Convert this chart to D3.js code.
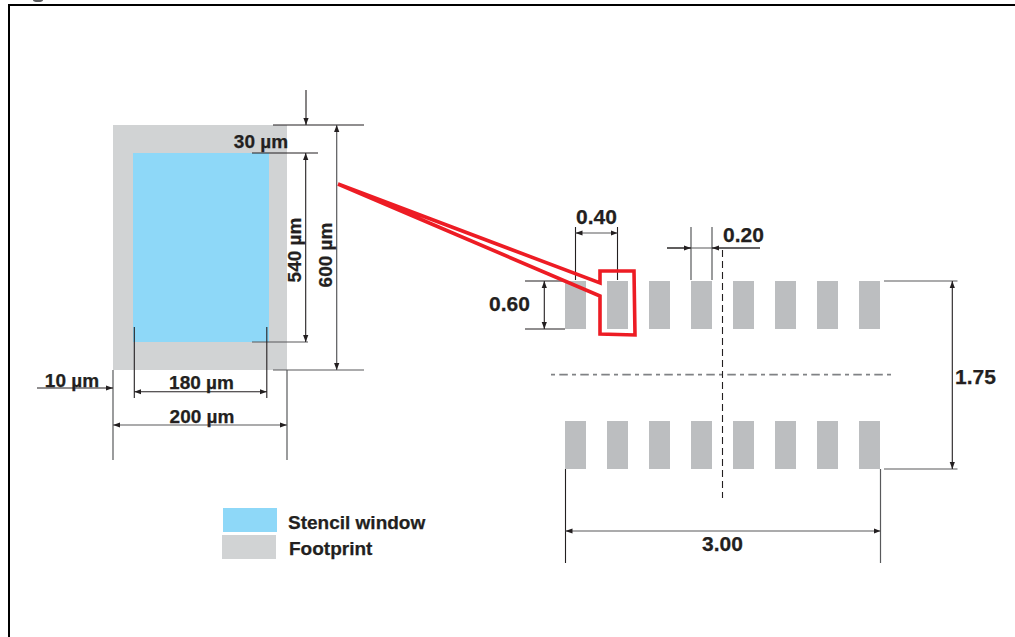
<!DOCTYPE html>
<html>
<head>
<meta charset="utf-8">
<script src="https://cdn.jsdelivr.net/npm/d3@7"></script>
<style>
  html, body { margin: 0; padding: 0; background: #fff; overflow: hidden; }
  svg { display: block; }
  text { font-family: "Liberation Sans", Arial, sans-serif; font-weight: bold; fill: #231f20; stroke: #231f20; stroke-width: 0.25; }
</style>
</head>
<body>
<svg id="chart"></svg>
<script>
// Values
const footprintUm = [0, 200];
const footprintHeightUm = [0, 600];
const stencilXUm = [10, 190];
const stencilYUm = [30, 570];
const padLeftMm = [0, 0.4, 0.8, 1.2, 1.6, 2.0, 2.4, 2.8];
const padRowsMm = [0, 1.75];
const padWidthMm = 0.2;
const padHeightMm = 0.6;
const packageWidthMm = 3.0;
const legendNames = ["Stencil window", "Footprint"];
const legendColors = ["#8ed8f8", "#d1d3d4"];

const width = 1015;
const height = 637;
const ink = "#231f20";
const gray = "#58595b";

const svg = d3.select("#chart").attr("width", width).attr("height", height);

svg.append("defs").append("marker")
  .attr("id", "arrow")
  .attr("viewBox", "0 -3 7 6")
  .attr("refX", 7)
  .attr("refY", 0)
  .attr("orient", "auto-start-reverse")
  .attr("markerUnits", "userSpaceOnUse")
  .attr("markerWidth", 7)
  .attr("markerHeight", 6)
  .append("path")
  .attr("d", "M0,-2.6L7,0L0,2.6Z")
  .attr("fill", ink);

// The stencil view is not to scale, so each scale is piecewise through the labelled edges
const xUm = d3.scaleLinear().domain([0, 10, 190, 200]).range([113, 134.3, 266.8, 287]);
const yUm = d3.scaleLinear().domain([0, 30, 570, 600]).range([125, 153, 342, 370]);

// Pad view: x and row spacing share a scale, pad height is drawn shorter
const xMm = d3.scaleLinear().domain([0, packageWidthMm]).range([565, 880]);
const yMm = d3.scaleLinear().domain([0, 1.75]).range([281, 469]);
const padH = d3.scaleLinear().domain([0, padHeightMm]).range([0, 48]);

function line(x1, y1, x2, y2, opts = {}) {
  const l = svg.append("line")
    .attr("x1", x1).attr("y1", y1).attr("x2", x2).attr("y2", y2)
    .attr("stroke", opts.color || ink)
    .attr("stroke-width", opts.w || 1.1);
  if (opts.start) l.attr("marker-start", "url(#arrow)");
  if (opts.end) l.attr("marker-end", "url(#arrow)");
  if (opts.dash) l.attr("stroke-dasharray", opts.dash);
  return l;
}

function label(str, x, y, size, anchor = "middle", rotate = false) {
  const t = svg.append("text")
    .attr("font-size", size)
    .attr("text-anchor", anchor)
    .text(str);
  if (rotate) t.attr("transform", `translate(${x},${y}) rotate(-90)`);
  else t.attr("x", x).attr("y", y);
  return t;
}

// Frame, cut by the page edge on the right and the bottom
svg.append("path")
  .attr("d", `M9,${height}V5H${width}`)
  .attr("fill", "none")
  .attr("stroke", "#000")
  .attr("stroke-width", 2);

// Last bit of the caption that the crop left above the frame
svg.append("ellipse")
  .attr("cx", 38).attr("cy", 0)
  .attr("rx", 5).attr("ry", 2)
  .attr("fill", gray);

// Stencil view
svg.append("rect")
  .attr("x", xUm(footprintUm[0]))
  .attr("y", yUm(footprintHeightUm[0]))
  .attr("width", xUm(footprintUm[1]) - xUm(footprintUm[0]))
  .attr("height", yUm(footprintHeightUm[1]) - yUm(footprintHeightUm[0]))
  .attr("fill", legendColors[1]);

svg.append("rect")
  .attr("x", xUm(stencilXUm[0]) - 1.3)
  .attr("y", yUm(stencilYUm[0]))
  .attr("width", xUm(stencilXUm[1]) - xUm(stencilXUm[0]) + 3.5)
  .attr("height", yUm(stencilYUm[1]) - yUm(stencilYUm[0]))
  .attr("fill", legendColors[0]);

// Horizontal extension lines of the stencil view
line(273, yUm(0), 364, yUm(0));
line(252, yUm(30), 318, yUm(30));
line(252, yUm(570), 308, yUm(570), { color: gray, w: 1.2 });
line(273, yUm(600), 364, yUm(600), { color: gray, w: 1.2 });

// Vertical dimensions
line(306, 90, 306, yUm(0), { end: true });
line(305.7, yUm(30), 305.7, yUm(570), { start: true, end: true });
line(336.7, yUm(0), 336.7, yUm(600), { start: true, end: true, color: gray, w: 1.2 });
label("30 µm", 261, 148, 19);
label("540 µm", 301, 250, 19, "middle", true);
label("600 µm", 332, 255, 19, "middle", true);

// Horizontal dimensions
line(xUm(0), 370, xUm(0), 460, { color: gray, w: 1.2 });
line(xUm(200), 370, xUm(200), 460, { color: gray, w: 1.2 });
line(xUm(10), 327, xUm(10), 398);
line(xUm(190), 327, xUm(190), 398);
line(37, 388, xUm(0), 388, { end: true });
line(xUm(10), 391.7, xUm(190), 391.7, { start: true, end: true });
line(xUm(0), 425, xUm(200), 425, { start: true, end: true, color: gray, w: 1.2 });
label("10 µm", 72, 386.5, 19);
label("180 µm", 201.5, 389, 19);
label("200 µm", 202, 423, 19);

// Legend
legendNames.forEach((name, i) => {
  svg.append("rect")
    .attr("x", 223 - i)
    .attr("y", 508 + i * 27)
    .attr("width", 54)
    .attr("height", 24)
    .attr("fill", legendColors[i]);
  label(name, 288 + i, 529 + i * 26, 19, "start");
});

// Pads
padRowsMm.forEach((row, r) => {
  svg.append("g").selectAll("rect")
    .data(padLeftMm)
    .join("rect")
    .attr("x", d => xMm(d))
    .attr("y", r === 0 ? yMm(row) : yMm(row) - padH(padHeightMm))
    .attr("width", xMm(padWidthMm) - xMm(0))
    .attr("height", padH(padHeightMm))
    .attr("fill", "#bcbec0");
});

// Centre lines
line(551, 374.7, 892, 374.7, { color: "#808285", w: 1.8, dash: "4 4.3 8.5 4.2" });
line(xMm(1.5), 250, xMm(1.5), 498, { dash: "7 4" });

// 0.40 pitch, measured between pad centres
const pitchA = xMm(padLeftMm[0] + padWidthMm / 2);
const pitchB = xMm(padLeftMm[1] + padWidthMm / 2);
line(pitchA, 227, pitchA, 280);
line(pitchB, 227, pitchB, 280);
line(pitchA, 233, pitchB, 233, { start: true, end: true, color: gray, w: 1.2 });
label("0.40", (pitchA + pitchB) / 2, 224, 21);

// 0.20 pad width
const widthA = xMm(padLeftMm[3]);
const widthB = widthA + xMm(padWidthMm) - xMm(0);
line(widthA, 227, widthA, 280, { color: gray, w: 1.2 });
line(widthB, 227, widthB, 280, { color: gray, w: 1.2 });
line(667, 248, widthB + 48, 248, { color: gray, w: 1.2 });
line(667, 248, widthA, 248, { end: true });
line(760, 248, widthB, 248, { end: true });
label("0.20", 723, 242, 21, "start");

// 0.60 pad height
const heightB = yMm(0) + padH(padHeightMm);
line(525, yMm(0), 565, yMm(0));
line(525, heightB, 565, heightB);
line(544.3, yMm(0), 544.3, heightB, { start: true, end: true });
label("0.60", 489, 310.7, 21, "start");

// 1.75 row distance
line(884, yMm(0), 957.5, yMm(0), { color: gray, w: 1.2 });
line(884, yMm(1.75), 957.5, yMm(1.75), { color: gray, w: 1.2 });
line(952.3, yMm(0), 952.3, yMm(1.75), { start: true, end: true });
label("1.75", 955, 384, 21, "start");

// 3.00 overall width
line(xMm(0) + 0.5, 469, xMm(0) + 0.5, 563);
line(xMm(3) + 0.5, 469, xMm(3) + 0.5, 563, { color: gray, w: 1.2 });
line(xMm(0) + 0.5, 531, xMm(3) + 0.5, 531, { start: true, end: true, color: gray, w: 1.2 });
label("3.00", xMm(1.5), 550.7, 21);

// Red call-out from the stencil view to the second pad
const callout = [
  [338, 184], [600, 283], [600, 271], [634, 271], [635, 335], [600, 334], [600, 296], [338, 184]
];
svg.append("path")
  .attr("d", d3.line()(callout))
  .attr("fill", "none")
  .attr("stroke", "#ed1c24")
  .attr("stroke-width", 3.6);
</script>
</body>
</html>
